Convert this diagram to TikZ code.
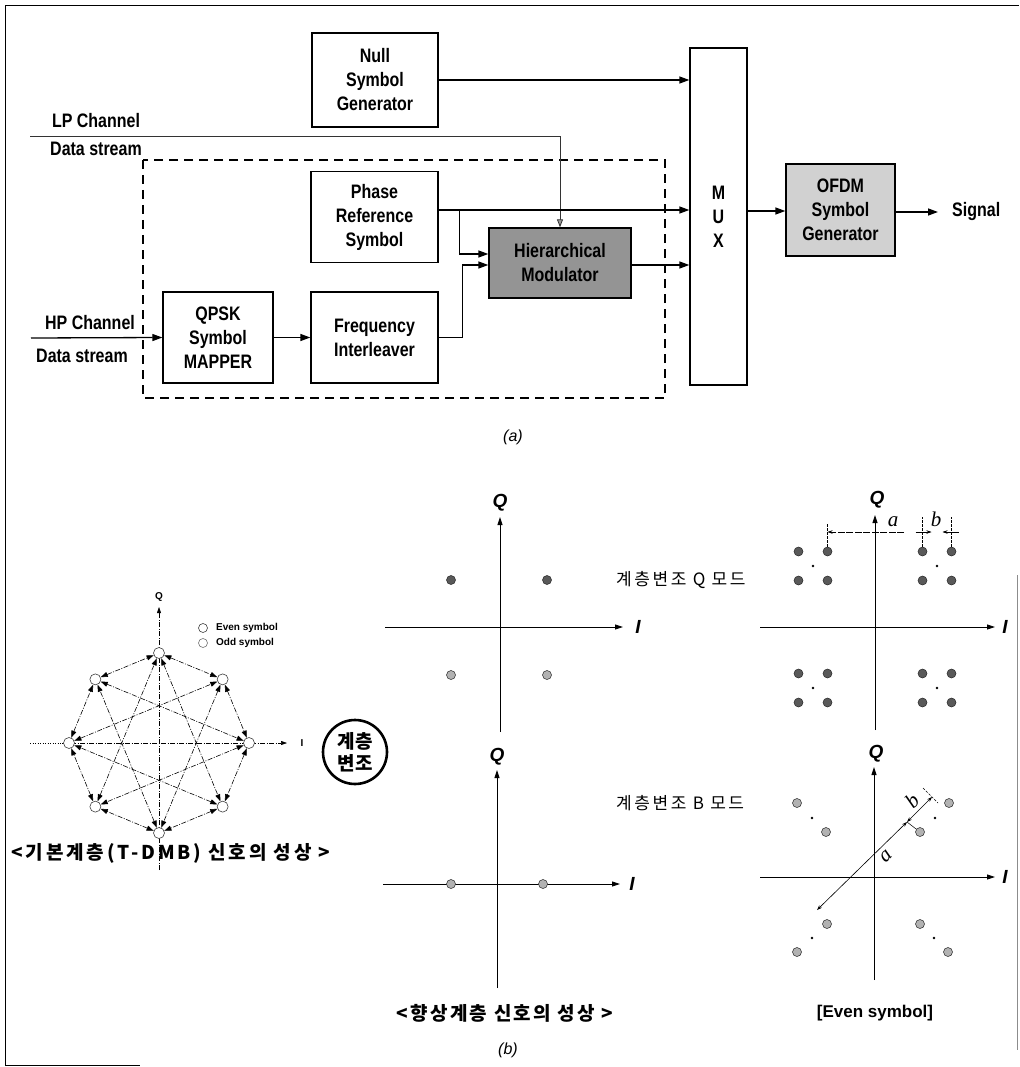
\documentclass[tikz,border=0pt]{standalone}
\usepackage{fontspec}
\setmainfont{Liberation Sans}
\newfontfamily\narrowsans{Liberation Sans}[FakeStretch=0.82]
\newfontfamily\kr{Noto Sans CJK KR}
\newfontfamily\krwide{Noto Sans CJK KR}[LetterSpace=12]
\newfontfamily\krwider{Noto Sans CJK KR}[LetterSpace=15]
\newfontfamily\dimfont{Liberation Serif}
\usetikzlibrary{arrows.meta,calc}
\begin{document}
\begin{tikzpicture}[x=1pt,y=-1pt,
  blockfont/.style={font=\narrowsans\bfseries\fontsize{19.5}{24}\selectfont},
  blk/.style={draw,line width=1.3pt,inner sep=0pt,align=center,blockfont},
  lbl/.style={inner sep=0pt,blockfont},
  arr/.style={line width=1.3pt,-{Triangle[length=10pt,width=7pt]}},
  lparr/.style={line width=0.8pt,black!80,-{Triangle[length=8pt,width=6pt,fill=black!40]}},
  sublbl/.style={inner sep=0pt,font=\fontsize{16}{18}\selectfont\itshape},
  % constellation of the base layer
  sym/.style={circle,draw=black!75,fill=white,line width=0.6pt,minimum size=11pt,inner sep=0pt},
  carr/.style={line width=0.6pt,dash pattern=on 5pt off 1.5pt on 1pt off 1.5pt,
    {Triangle[length=7pt,width=5pt]}-{Triangle[length=7pt,width=5pt]}},
  cax/.style={line width=0.5pt,dash pattern=on 5pt off 1.5pt on 1pt off 1.5pt,-{Triangle[length=6pt,width=4pt]}},
  small/.style={inner sep=0pt,font=\bfseries\fontsize{10}{12}\selectfont},
  % I/Q diagrams
  ax/.style={line width=0.9pt,-{Triangle[length=8pt,width=5pt]}},
  axlbl/.style={inner sep=0pt,font=\bfseries\itshape\fontsize{19}{20}\selectfont},
  pt/.style={circle,draw=black!85,fill=black!65,minimum size=9pt,inner sep=0pt,line width=0.5pt},
  ptl/.style={pt,fill=black!30},
  dot/.style={circle,fill=black,minimum size=2.6pt,inner sep=0pt},
  tick/.style={line width=0.5pt,dash pattern=on 2.5pt off 1.5pt},
  dim/.style={line width=0.6pt,{Stealth[length=5pt,width=3.5pt]}-{Stealth[length=5pt,width=3.5pt]}},
  dimone/.style={line width=0.6pt,-{Stealth[length=5pt,width=3.5pt]}},
  dimlbl/.style={inner sep=0pt,font=\dimfont\itshape\fontsize{21}{22}\selectfont},
  kb/.style={inner sep=0pt,font=\krwide\bfseries\fontsize{19}{22}\selectfont},
  kbw/.style={inner sep=0pt,font=\krwider\bfseries\fontsize{19}{22}\selectfont},
  kr/.style={inner sep=0pt,anchor=west,font=\krwider\fontsize{17}{18}\selectfont},
]
\useasboundingbox (0,0) rectangle (1019,1067);

% outer frame
\draw[line width=1pt] (5,1066) -- (5,6) -- (1019,6);
\draw[line width=0.8pt,black!45] (1017,575) -- (1017,1050);
\draw[line width=0.8pt] (5,1065) -- (140,1065);

% ---------------- (a) transmitter block diagram ----------------
\node[blk,minimum width=126pt,minimum height=94pt] (null) at (375,80) {Null\\Symbol\\Generator};
\node[blk,minimum width=127pt,minimum height=91pt] (phase) at (374.5,217) {Phase\\Reference\\Symbol};
\node[blk,minimum width=110pt,minimum height=91pt] (qpsk) at (218,337.5) {QPSK\\Symbol\\MAPPER};
\node[blk,minimum width=127pt,minimum height=91pt] (freq) at (374.5,337.5) {Frequency\\Interleaver};
\node[blk,fill=black!42,minimum width=142pt,minimum height=70pt] (hier) at (560,263) {Hierarchical\\Modulator};
\node[blk,minimum width=57pt,minimum height=337pt] (mux) at (718.5,216.5) {M\\U\\X};
\node[blk,fill=black!18,minimum width=109pt,minimum height=92pt] (ofdm) at (840.5,210) {OFDM\\Symbol\\Generator};
\node[lbl,anchor=west] (signal) at (952,212) {Signal};

\node[lbl] (lpch) at (96,121) {LP Channel};
\node[lbl] (lpds) at (96,149) {Data stream};
\node[lbl] (hpch) at (90,323) {HP Channel};
\node[lbl] (hpds) at (82,356) {Data stream};

\draw[line width=1.8pt,dash pattern=on 9pt off 6pt] (143,160) rectangle (665,398);

\coordinate (lpin) at (30,136);
\coordinate (hpin) at (31,338);
\draw[lparr] (lpin) -| (hier.north);
\draw[arr] (hpin) -- (qpsk.west);
\draw[arr] (qpsk.east) -- (freq.west);
\draw[arr] (null.east) -- (null.east -| mux.west);
\draw[arr] ([yshift=7pt]phase.east) -- ([yshift=7pt]phase.east -| mux.west);
\draw[arr] ([yshift=7pt]phase.east) -- ++(21,0) |- ([yshift=9pt]hier.west);
\draw[arr] (freq.east) -- ++(24,0) |- ([yshift=-2pt]hier.west);
\draw[arr] ([yshift=-2pt]hier.east) -- ([yshift=-2pt]hier.east -| mux.west);
\draw[arr] (mux.east |- 0,211) -- (ofdm.west |- 0,211);
\draw[arr,shorten >=14pt] (ofdm.east |- signal.west) -- (signal.west);

\node[sublbl] (capa) at (513,437) {(a)};

% ---------------- (b) constellations ----------------
% base layer: 8 symbols on a circle
\coordinate (oc) at (159,743);
\draw[line width=0.5pt,dash pattern=on 1pt off 1.5pt] (30,743) -- (62,743);
\draw[cax] (62,743) -- (287,743);
\draw[cax] (159,870) -- (159,607);
\node[small] (lq) at (159,597) {Q};
\node[small] (li) at (302,743) {I};
\foreach \k in {0,...,7} {
  \node[sym] (s\k) at ($(oc)+({\k*45}:90)$) {};
}
\foreach \k [evaluate=\k as \n using {int(mod(\k+1,8))},
             evaluate=\k as \m using {int(mod(\k+3,8))}] in {0,...,7} {
  \draw[carr] (s\k) -- (s\n);
  \draw[carr] (s\k) -- (s\m);
}
\node[sym,minimum size=9pt] (leven) at (203,628) {};
\node[sym,minimum size=9pt,draw=black!55] (lodd) at (203,643) {};
\node[small,anchor=west] (teven) at (216,628) {Even symbol};
\node[small,anchor=west] (todd) at (216,643) {Odd symbol};
\node[kbw] (base) at (171,853) {<기본계층(T-DMB) 신호의 성상 >};

\node[circle,draw,line width=2.6pt,minimum size=64pt,inner sep=0pt,align=center,
      font=\kr\bfseries\fontsize{19}{22}\selectfont] (hmod) at (355,752) {계층\\변조};

% enhancement layer, QPSK
\draw[ax] (385,627) -- (623,627);
\draw[ax] (500,732) -- (500,517);
\node[axlbl] (mq1) at (500,503) {Q};
\node[axlbl] (mi1) at (638,627) {I};
\node[pt] (m1a) at (451,580) {};
\node[pt] (m1b) at (547,580) {};
\node[ptl] (m1c) at (451,675) {};
\node[ptl] (m1d) at (547,675) {};
\node[kr] (qmode) at (616,580) {계층변조 Q 모드};

% enhancement layer, BPSK
\draw[ax] (383,884) -- (620,884);
\draw[ax] (497,988) -- (497,770);
\node[axlbl] (mq2) at (497,757) {Q};
\node[axlbl] (mi2) at (632,884) {I};
\node[ptl] (m2a) at (451,884) {};
\node[ptl] (m2b) at (543,884) {};
\node[kr] (bmode) at (616,803) {계층변조 B 모드};
\node[kb] (enh) at (505,1013) {<향상계층 신호의 성상 >};
\node[sublbl] (capb) at (508,1050) {(b)};

% hierarchical Q mode
\draw[ax] (760,627) -- (995,627);
\draw[ax] (875,730) -- (875,515);
\node[axlbl] (rq1) at (877,500) {Q};
\node[axlbl] (ri1) at (1005,627) {I};
\foreach \cx/\cy/\nm in {813/566/a,937/566/b,813/688/c,937/688/d} {
  \node[dot] (q\nm) at (\cx,\cy) {};
  \node[pt] (q\nm1) at (\cx-14.5,\cy-14.5) {};
  \node[pt] (q\nm2) at (\cx+14.5,\cy-14.5) {};
  \node[pt] (q\nm3) at (\cx-14.5,\cy+14.5) {};
  \node[pt] (q\nm4) at (\cx+14.5,\cy+14.5) {};
}
\draw[tick] (qa2.north) -- ++(0,-24);
\draw[tick] (qb1.north) -- ++(0,-30);
\draw[tick] (qb2.north) -- ++(0,-30);
\coordinate (aend) at (904,532);
\draw[dimone,dash pattern=on 7pt off 1.5pt] (aend) -- (qa2.north |- aend);
\node[dimlbl] (la1) at (893,522) {a};
\draw[dimone] ($(qb1.north |- aend)+(-7,0)$) -- ++(16,0);
\draw[dimone] ($(qb2.north |- aend)+(7,0)$) -- ++(-16,0);
\node[dimlbl] (lb1) at (936,519) {b};

% hierarchical B mode
\draw[ax] (760,877) -- (995,877);
\draw[ax] (874,980) -- (874,767);
\node[axlbl] (rq2) at (876,754) {Q};
\node[axlbl] (ri2) at (1005,877) {I};
\node[dot] (ba) at (812,818) {};
\node[ptl] (ba1) at (797,803) {};
\node[ptl] (ba2) at (826,832) {};
\node[dot] (bb) at (935,818) {};
\node[ptl] (bb1) at (949,803) {};
\node[ptl] (bb2) at (920,832) {};
\node[dot] (bc) at (812,938) {};
\node[ptl] (bc1) at (797,952) {};
\node[ptl] (bc2) at (827,924) {};
\node[dot] (bd) at (934,938) {};
\node[ptl] (bd1) at (948,952) {};
\node[ptl] (bd2) at (920,924) {};
\coordinate (dlo) at (817,910);
\coordinate (dmid) at (907,822);
\coordinate (dhi) at (932,797);
\draw[dim] (dlo) -- (dmid);
\draw[line width=0.5pt] (dmid) -- (bb2);
\draw[dim] (dmid) -- (dhi);
\draw[tick] ($(dhi)+(-9,-9)$) -- ($(dhi)+(6,6)$);
\node[dimlbl,rotate=45] (la2) at (886,856) {a};
\node[dimlbl,rotate=45] (lb2) at (912,801) {b};
\node[inner sep=0pt,font=\bfseries\fontsize{17}{20}\selectfont] (even) at (875,1013) {[Even symbol]};
\end{tikzpicture}
\end{document}
